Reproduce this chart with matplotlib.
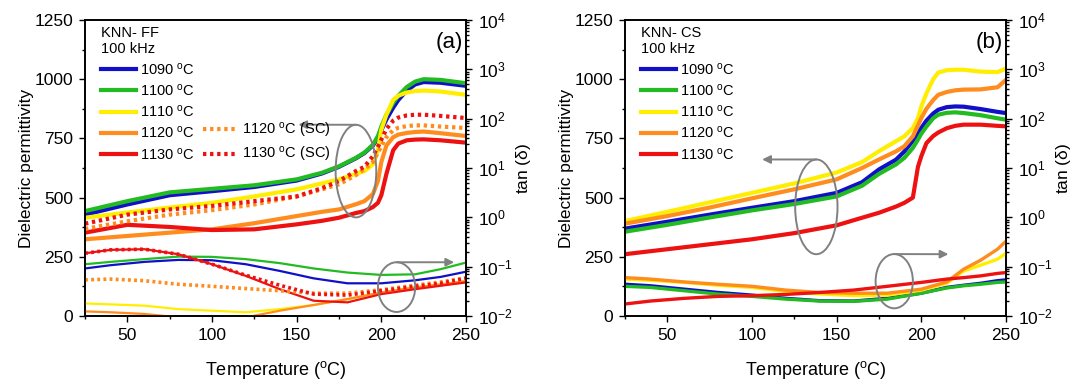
import numpy as np
import matplotlib
matplotlib.use("Agg")
import matplotlib.pyplot as plt
from matplotlib.patches import Ellipse
from matplotlib.lines import Line2D
from matplotlib.ticker import MultipleLocator, LogLocator, NullFormatter

plt.rcParams["font.family"] = ["Liberation Sans", "DejaVu Sans"]
plt.rcParams["mathtext.fontset"] = "custom"
plt.rcParams["mathtext.rm"] = "Liberation Sans"
plt.rcParams["mathtext.it"] = "Liberation Sans:italic"
plt.rcParams["mathtext.default"] = "regular"

# ---- data ----
temp_eps_a = [25, 50, 75, 100, 125, 150, 165, 175, 185, 190, 195, 198, 200, 203, 207, 210, 215, 220, 225, 235, 250]
temp_eps_b = [25, 50, 75, 100, 125, 150, 165, 175, 185, 190, 195, 198, 200, 203, 207, 210, 215, 220, 225, 235, 245, 250]
temp_tan_a = [25, 40, 60, 80, 100, 120, 140, 160, 180, 200, 220, 235, 250]
temp_tan_b = [25, 40, 60, 80, 100, 120, 140, 160, 180, 200, 215, 225, 235, 245, 250]

sinter_labels = ["1090", "1100", "1110", "1120", "1130"]
colors = ["#1010c8", "#22bb22", "#ffee00", "#ff8c1e", "#ee1111"]

# (a) KNN-FF permittivity
eps_a_1090 = [428, 471, 510, 527, 545, 572, 602, 630, 666, 688, 720, 752, 785, 830, 880, 912, 952, 978, 988, 985, 972]
eps_a_1100 = [443, 485, 522, 537, 552, 577, 605, 632, 668, 690, 723, 760, 800, 850, 900, 930, 967, 990, 1000, 997, 983]
eps_a_1110 = [415, 437, 458, 478, 505, 535, 560, 577, 600, 612, 640, 700, 787, 850, 913, 930, 944, 950, 952, 948, 934]
eps_a_1120 = [324, 338, 352, 366, 392, 422, 440, 450, 472, 485, 515, 570, 650, 720, 755, 766, 773, 777, 779, 772, 760]
eps_a_1130 = [352, 385, 376, 363, 366, 387, 402, 415, 435, 443, 460, 478, 510, 600, 700, 728, 742, 745, 746, 742, 732]
eps_a_1120_sc = [368, 400, 428, 447, 471, 505, 535, 556, 595, 620, 650, 690, 717, 755, 785, 795, 802, 805, 805, 800, 794]
eps_a_1130_sc = [390, 428, 450, 465, 485, 505, 540, 570, 612, 630, 675, 715, 745, 790, 825, 838, 847, 850, 850, 845, 836]

# (a) KNN-FF loss tangent
tan_a_1090 = [0.092, 0.107, 0.125, 0.137, 0.135, 0.112, 0.082, 0.058, 0.046, 0.046, 0.053, 0.062, 0.079]
tan_a_1100 = [0.112, 0.125, 0.142, 0.160, 0.158, 0.142, 0.118, 0.092, 0.076, 0.068, 0.070, 0.089, 0.121]
tan_a_1110 = [0.018, 0.0172, 0.0162, 0.0138, 0.0128, 0.0119, 0.0138, 0.0167, 0.022, 0.030, 0.038, 0.042, 0.048]
tan_a_1120 = [0.0124, 0.0119, 0.011, 0.0094, 0.0081, 0.0094, 0.0128, 0.0167, 0.022, 0.030, 0.038, 0.044, 0.051]
tan_a_1130 = [0.187, 0.219, 0.226, 0.179, 0.112, 0.065, 0.035, 0.0204, 0.0189, 0.0278, 0.035, 0.041, 0.048]
tan_a_1120_sc = [0.054, 0.056, 0.052, 0.044, 0.040, 0.036, 0.0325, 0.029, 0.029, 0.034, 0.042, 0.049, 0.060]
tan_a_1130_sc = [0.187, 0.219, 0.226, 0.179, 0.112, 0.067, 0.042, 0.0278, 0.0265, 0.0325, 0.040, 0.046, 0.058]

# (b) KNN-CS permittivity
eps_b_1090 = [369, 398, 428, 457, 485, 520, 565, 619, 660, 695, 740, 770, 794, 825, 855, 871, 882, 885, 884, 874, 862, 857]
eps_b_1100 = [356, 385, 416, 446, 473, 505, 550, 600, 640, 668, 710, 745, 770, 800, 835, 850, 858, 860, 857, 848, 835, 829]
eps_b_1110 = [401, 440, 480, 520, 560, 606, 650, 696, 738, 759, 794, 835, 885, 940, 1000, 1028, 1038, 1040, 1040, 1032, 1030, 1045]
eps_b_1120 = [390, 422, 458, 497, 535, 577, 625, 661, 695, 717, 759, 805, 836, 875, 912, 934, 946, 953, 956, 957, 966, 997]
eps_b_1130 = [261, 282, 303, 324, 350, 383, 415, 436, 462, 478, 500, 630, 675, 730, 760, 775, 793, 803, 808, 808, 803, 801]

# (b) KNN-CS loss tangent
tan_b_1090 = [0.044, 0.041, 0.035, 0.030, 0.0265, 0.0228, 0.0204, 0.0201, 0.0228, 0.029, 0.038, 0.042, 0.046, 0.052, 0.054]
tan_b_1100 = [0.040, 0.038, 0.0325, 0.0278, 0.025, 0.022, 0.0201, 0.0198, 0.022, 0.029, 0.037, 0.041, 0.044, 0.048, 0.049]
tan_b_1110 = [0.056, 0.053, 0.048, 0.042, 0.038, 0.0315, 0.028, 0.0258, 0.0265, 0.0335, 0.046, 0.082, 0.107, 0.142, 0.187]
tan_b_1120 = [0.060, 0.056, 0.049, 0.044, 0.040, 0.0335, 0.030, 0.029, 0.029, 0.035, 0.049, 0.089, 0.135, 0.226, 0.33]
tan_b_1130 = [0.0175, 0.0201, 0.0228, 0.025, 0.0258, 0.0274, 0.030, 0.0335, 0.040, 0.048, 0.056, 0.060, 0.065, 0.073, 0.076]

DOTS = (0, (0.8, 0.9))
GREY = "#808080"
LEG_FS = 10.5


def deg(label):
    return label + r" $^{o}$C"


def style_axes(ax, ax2):
    ax.set_xlim(25, 250)
    ax.set_ylim(0, 1250)
    ax.xaxis.set_major_locator(MultipleLocator(50))
    ax.xaxis.set_minor_locator(MultipleLocator(25))
    ax.yaxis.set_major_locator(MultipleLocator(250))
    ax.yaxis.set_minor_locator(MultipleLocator(125))
    ax.tick_params(which="both", direction="out", labelsize=12.5, width=1, pad=4)
    ax.tick_params(which="major", length=4.5)
    ax.tick_params(which="minor", length=2.5)
    ax.set_xlabel(r"Temperature ($^{o}$C)", fontsize=13, labelpad=12)
    ax.set_ylabel("Dielectric permittivity", fontsize=12.5)
    ax.yaxis.set_label_coords(-0.135, 0.5)

    ax2.set_yscale("log")
    ax2.set_ylim(1e-2, 1e4)
    ax2.yaxis.set_major_locator(LogLocator(base=10, numticks=10))
    ax2.yaxis.set_minor_locator(LogLocator(base=10, subs=np.arange(2, 10), numticks=10))
    ax2.yaxis.set_minor_formatter(NullFormatter())
    ax2.tick_params(which="both", direction="out", labelsize=12.5, width=1, pad=4)
    ax2.tick_params(which="major", length=4.5)
    ax2.tick_params(which="minor", length=2.5)
    ax2.set_ylabel(r"tan ($\delta$)", fontsize=12.5)
    ax2.yaxis.set_label_coords(1.125, 0.5)
    for a in (ax, ax2):
        for s in a.spines.values():
            s.set_linewidth(1.2)


def add_marker(ax, ax2, center, width, height, arrow_to):
    e = Ellipse(center, width, height, fill=False, edgecolor=GREY, lw=1.4,
                transform=ax.transData, zorder=5)
    ax2.add_patch(e)
    top = (center[0], center[1] + height / 2)
    ax2.annotate("", xy=arrow_to, xytext=top, xycoords=ax.transData,
                 textcoords=ax.transData,
                 arrowprops=dict(arrowstyle="-|>", color=GREY, lw=1.4,
                                 mutation_scale=12, shrinkA=0, shrinkB=0))


fig = plt.figure(figsize=(10.73, 3.86), dpi=100)
ax_a = fig.add_axes([85 / 1073, 70 / 386, 381 / 1073, 296 / 386])
ax_b = fig.add_axes([625 / 1073, 70 / 386, 381 / 1073, 296 / 386])
ax_a2 = ax_a.twinx()
ax_b2 = ax_b.twinx()

# ---- panel (a) ----
eps_a = [eps_a_1090, eps_a_1100, eps_a_1110, eps_a_1120, eps_a_1130]
tan_a = [tan_a_1090, tan_a_1100, tan_a_1110, tan_a_1120, tan_a_1130]
handles_a = []
for lab, c, e, t in zip(sinter_labels, colors, eps_a, tan_a):
    (ln,) = ax_a.plot(temp_eps_a, e, color=c, lw=3, label=deg(lab))
    ax_a2.plot(temp_tan_a, t, color=c, lw=1.6)
    handles_a.append(ln)
(ln_sc1,) = ax_a.plot(temp_eps_a, eps_a_1120_sc, color=colors[3], lw=3, ls=DOTS)
(ln_sc2,) = ax_a.plot(temp_eps_a, eps_a_1130_sc, color=colors[4], lw=3, ls=DOTS)
ax_a2.plot(temp_tan_a, tan_a_1120_sc, color=colors[3], lw=2.6, ls=DOTS)
ax_a2.plot(temp_tan_a, tan_a_1130_sc, color=colors[4], lw=2.6, ls=DOTS)

style_axes(ax_a, ax_a2)
blank = Line2D([], [], ls="none")
ax_a2.legend(
    handles_a + [blank, blank, blank, ln_sc1, ln_sc2],
    [deg(l) for l in sinter_labels] + ["", "", "", deg("1120") + " (SC)", deg("1130") + " (SC)"],
    ncol=2, loc="upper left", bbox_to_anchor=(0.005, 1.03), frameon=False,
    fontsize=LEG_FS, title="KNN- FF\n100 kHz", title_fontsize=LEG_FS, alignment="left",
    handlelength=2.4, handletextpad=0.27, columnspacing=0.55, labelspacing=0.36,
    borderpad=0.5,
)
ax_a.text(0.992, 0.924, "(a)", transform=ax_a.transAxes, ha="right", va="center", fontsize=16)
add_marker(ax_a, ax_a2, (185, 612), 24, 391, (151, 808))
add_marker(ax_a, ax_a2, (209, 122), 22, 210, (243, 227))

# ---- panel (b) ----
eps_b = [eps_b_1090, eps_b_1100, eps_b_1110, eps_b_1120, eps_b_1130]
tan_b = [tan_b_1090, tan_b_1100, tan_b_1110, tan_b_1120, tan_b_1130]
handles_b = []
for lab, c, e, t in zip(sinter_labels, colors, eps_b, tan_b):
    (ln,) = ax_b.plot(temp_eps_b, e, color=c, lw=3, label=deg(lab))
    ax_b2.plot(temp_tan_b, t, color=c, lw=2.4)
    handles_b.append(ln)

style_axes(ax_b, ax_b2)
ax_b2.legend(
    handles_b, [deg(l) for l in sinter_labels],
    loc="upper left", bbox_to_anchor=(0.005, 1.03), frameon=False,
    fontsize=LEG_FS, title="KNN- CS\n100 kHz", title_fontsize=LEG_FS, alignment="left",
    handlelength=2.4, handletextpad=0.27, labelspacing=0.36, borderpad=0.5,
)
ax_b.text(0.992, 0.924, "(b)", transform=ax_b.transAxes, ha="right", va="center", fontsize=16)
add_marker(ax_b, ax_b2, (138, 461), 25, 400, (106, 661))
add_marker(ax_b, ax_b2, (184, 147), 22, 229, (216, 261))

fig.savefig("out.png", dpi=100)
